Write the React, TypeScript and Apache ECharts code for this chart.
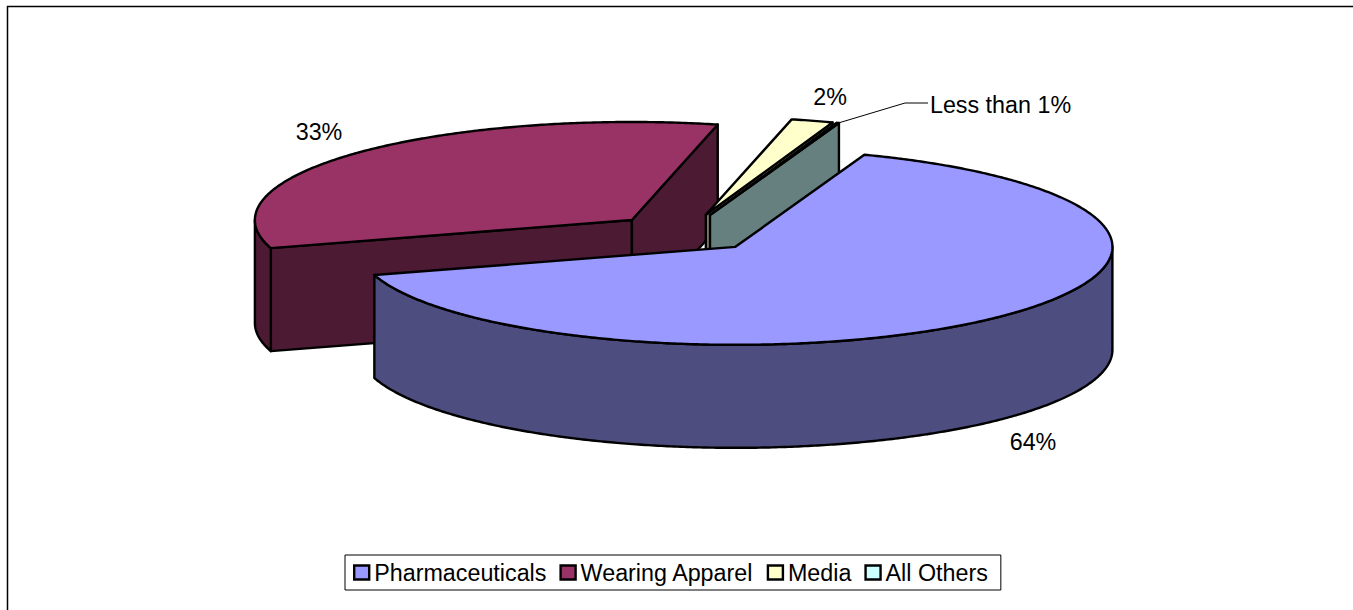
import React, { useEffect, useRef } from "react";
import * as echarts from "echarts";

const categories = ["Pharmaceuticals", "Wearing Apparel", "Media", "All Others"];
const shares = [64.8, 33.3, 1.8, 0.1];
const topColors = ["#9999FF", "#993366", "#FFFFCC", "#CCFFFF"];
const sideColors = ["#4D4D80", "#4D1A33", "#808066", "#668080"];
const drawOrder = [1, 2, 3, 0];
const labelTexts = ["64%", "33%", "2%", "Less than 1%"];
const labelAnchors = [[1033, 442], [319, 132], [830, 97], [1000.5, 105]];

const FONT = "'Liberation Sans', Arial, sans-serif";
const PIE = { cx: 685.2, cy: 233, rx: 377, ry: 98, depth: 103, explode: 0.194, startDeg: 20 };

const rad = (d: number) => (d * Math.PI) / 180;
const total = shares.reduce((a, b) => a + b, 0);

function sliceAngles(i: number) {
  let a = PIE.startDeg;
  for (let k = 0; k < i; k++) a += (shares[k] / total) * 360;
  return [a, a + (shares[i] / total) * 360];
}

function renderSlice(i: number) {
  return () => {
    const [a0, a1] = sliceAngles(i);
    const mid = rad((a0 + a1) / 2);
    const ax = PIE.cx + PIE.rx * PIE.explode * Math.sin(mid);
    const ay = PIE.cy - PIE.ry * PIE.explode * Math.cos(mid);
    const rim = (d: number, drop = 0) => [
      ax + PIE.rx * Math.sin(rad(d)),
      ay - PIE.ry * Math.cos(rad(d)) + drop,
    ];
    const arc = (from: number, to: number, drop = 0) => {
      const n = Math.max(2, Math.ceil(Math.abs(to - from) * 2));
      const out: number[][] = [];
      for (let k = 0; k <= n; k++) out.push(rim(from + ((to - from) * k) / n, drop));
      return out;
    };
    const base = {
      stroke: "#000",
      lineWidth: 2.4,
      lineJoin: "round",
    };
    const poly = (points: number[][], fill: string) => ({
      type: "polygon",
      shape: { points },
      style: { ...base, fill },
    });
    const side = sideColors[i];
    const children: any[] = [];
    const radial = (d: number) =>
      poly([[ax, ay], rim(d), rim(d, PIE.depth), [ax, ay + PIE.depth]], side);
    if (Math.sin(rad(a0)) < 0) children.push(radial(a0));
    if (Math.sin(rad(a1)) > 0) children.push(radial(a1));
    const wallFrom = Math.max(a0, 90);
    const wallTo = Math.min(a1, 270);
    if (wallTo > wallFrom) {
      children.push(poly([...arc(wallFrom, wallTo), ...arc(wallTo, wallFrom, PIE.depth)], side));
    }
    children.push(poly([[ax, ay], ...arc(a0, a1)], topColors[i]));
    return { type: "group", children };
  };
}

export default function App() {
  const ref = useRef<HTMLDivElement>(null);
  useEffect(() => {
    const chart = echarts.init(ref.current!, undefined, { renderer: "svg" });
    chart.setOption({
      animation: false,
      backgroundColor: "#fff",
      legend: {
        left: 345,
        top: 555,
        padding: [6, 13, 6, 8],
        itemGap: 13,
        itemWidth: 15,
        itemHeight: 14,
        icon: "rect",
        borderColor: "#000",
        borderWidth: 1,
        backgroundColor: "#fff",
        selectedMode: false,
        textStyle: { fontFamily: FONT, fontSize: 23.3, color: "#000" },
        data: categories.map((name, i) => ({
          name,
          itemStyle: { color: topColors[i], borderColor: "#000", borderWidth: 2.4 },
        })),
      },
      series: drawOrder.map((i) => ({
        type: "custom",
        name: categories[i],
        coordinateSystem: "none",
        data: [shares[i]],
        itemStyle: { color: topColors[i] },
        renderItem: renderSlice(i),
      })),
      graphic: [
        { type: "line", shape: { x1: 7, y1: 6.5, x2: 1353, y2: 6.5 }, style: { stroke: "#000", lineWidth: 1.5 } },
        { type: "line", shape: { x1: 7.5, y1: 6, x2: 7.5, y2: 610 }, style: { stroke: "#000", lineWidth: 1.5 } },
        { type: "polyline", shape: { points: [[835, 124], [905, 103], [928, 103]] }, style: { stroke: "#000", lineWidth: 1, fill: "none" } },
        ...labelTexts.map((text, i) => ({
          type: "text",
          x: labelAnchors[i][0],
          y: labelAnchors[i][1],
          style: { text, fontFamily: FONT, fontSize: 23.3, fill: "#000", align: "center", verticalAlign: "middle" },
        })),
      ],
    });
    return () => chart.dispose();
  }, []);
  return <div ref={ref} style={{ position: "fixed", left: 0, top: 0, width: 1353, height: 610 }} />;
}
